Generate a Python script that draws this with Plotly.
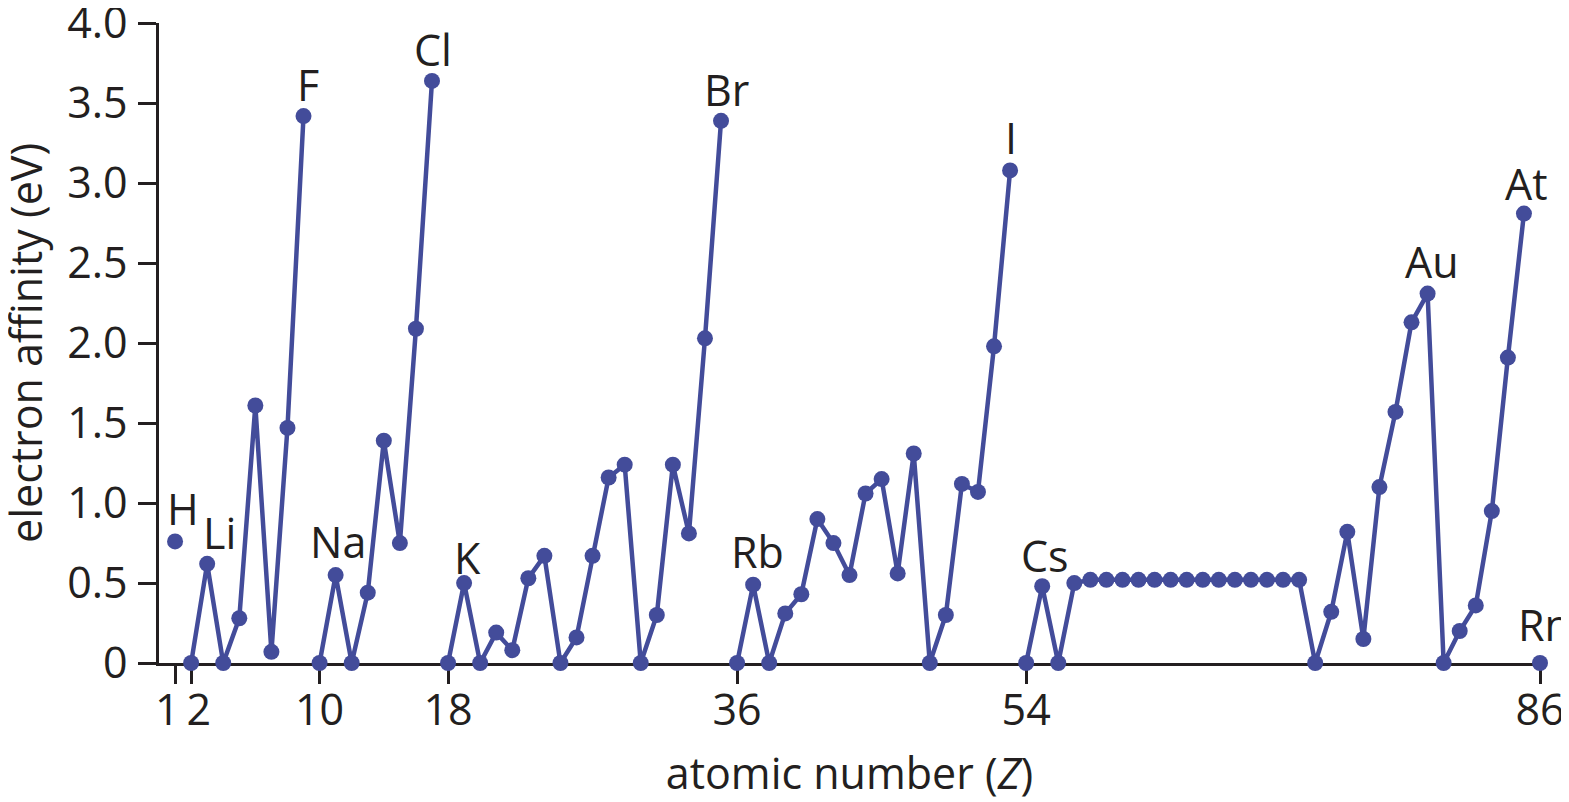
import plotly.graph_objects as go

# ---- data ----
Z = list(range(1, 87))
EA = [
    0.76, 0.00, 0.62, 0.00, 0.28, 1.61, 0.07, 1.47, 3.42, 0.00,   # 1-10
    0.55, 0.00, 0.44, 1.39, 0.75, 2.09, 3.64, 0.00, 0.50, 0.00,   # 11-20
    0.19, 0.08, 0.53, 0.67, 0.00, 0.16, 0.67, 1.16, 1.24, 0.00,   # 21-30
    0.30, 1.24, 0.81, 2.03, 3.39, 0.00, 0.49, 0.00, 0.31, 0.43,   # 31-40
    0.90, 0.75, 0.55, 1.06, 1.15, 0.56, 1.31, 0.00, 0.30, 1.12,   # 41-50
    1.07, 1.98, 3.08, 0.00, 0.48, 0.00, 0.50, 0.52, 0.52, 0.52,   # 51-60
    0.52, 0.52, 0.52, 0.52, 0.52, 0.52, 0.52, 0.52, 0.52, 0.52,   # 61-70
    0.52, 0.00, 0.32, 0.82, 0.15, 1.10, 1.57, 2.13, 2.31, 0.00,   # 71-80
    0.20, 0.36, 0.95, 1.91, 2.81, 0.00,                           # 81-86
]
# a new line segment starts at each of these atomic numbers
segment_starts = [1, 2, 10, 18, 36, 54, 86]

label_Z = [1, 3, 9, 11, 17, 19, 35, 37, 53, 55, 79, 85, 86]
label_text = ["H", "Li", "F", "Na", "Cl", "K", "Br", "Rb", "I", "Cs", "Au", "At", "Rn"]

x_tickvals = [1, 2, 10, 18, 36, 54, 86]
x_ticktext = ["1", "2", "10", "18", "36", "54", "86"]
y_tickvals = [0, 0.5, 1.0, 1.5, 2.0, 2.5, 3.0, 3.5, 4.0]
y_ticktext = ["0", "0.5", "1.0", "1.5", "2.0", "2.5", "3.0", "3.5", "4.0"]

x_title = "atomic number (<i>Z</i>)"
y_title = "electron affinity (eV)"

# ---- styling ----
COLOR = "#434C9A"
INK = "#231F20"
FONT = "Open Sans"
FS = 43
PAD = "\u00a0\u200a"

# the two crowded tick labels 1 and 2 are nudged apart with padding spaces
x_ticklabels = [PAD + t if t == "2" else (t + PAD if t == "1" else t) for t in x_ticktext]

# label offsets (px) relative to point: (xshift, yshift, xanchor)
label_style = {
    "H": (8, 1, "center"), "Li": (12, 0, "center"), "F": (4, 0, "center"),
    "Na": (2, 2, "center"), "Cl": (1, 0, "center"), "K": (3, -6, "center"),
    "Br": (5, 0, "center"), "Rb": (4, 2, "center"), "I": (1, 1, "center"),
    "Cs": (3, -1, "center"), "Au": (4, 1, "center"), "At": (3, -1, "center"),
    "Rn": (-24, 7, "left"),
}

# build line with breaks between segments
xs, ys = [], []
for z, v in zip(Z, EA):
    if z in segment_starts and xs:
        xs.append(None)
        ys.append(None)
    xs.append(z)
    ys.append(v)

fig = go.Figure()
fig.add_trace(go.Scatter(
    x=xs, y=ys, mode="lines+markers",
    line=dict(color=COLOR, width=4.5),
    marker=dict(color=COLOR, size=16),
    connectgaps=False, cliponaxis=False, showlegend=False,
    hoverinfo="x+y",
))

for z, t in zip(label_Z, label_text):
    dx, dy, xa = label_style[t]
    fig.add_annotation(
        x=z, y=EA[z - 1], text=t, showarrow=False,
        xanchor=xa, yanchor="bottom", xshift=dx, yshift=dy,
        font=dict(family=FONT, size=FS, color=INK),
    )

# y-axis title placed as a rotated annotation left of the tick labels
fig.add_annotation(
    xref="paper", yref="paper", x=0, y=0.5, text=y_title, textangle=-90,
    showarrow=False, xanchor="center", yanchor="middle", xshift=-134,
    font=dict(family=FONT, size=FS, color=INK),
)

axis_common = dict(
    showline=True, linecolor=INK, linewidth=2.5,
    ticks="outside", ticklen=18, tickwidth=2.5, tickcolor=INK,
    showgrid=False, zeroline=False, automargin=False,
    tickfont=dict(family=FONT, size=FS, color=INK),
    ticklabeloverflow="allow",
    layer="below traces",
)

# the page body adds an 8 px offset; the figure is sized to fill the window
fig.update_layout(
    width=1561, height=794,
    margin=dict(l=151, r=29, t=15, b=139, autoexpand=False),
    paper_bgcolor="white", plot_bgcolor="white",
    font=dict(family=FONT, size=FS, color=INK),
    xaxis=dict(
        range=[0, 86], tickvals=x_tickvals, ticktext=x_ticklabels, tickangle=0,
        ticklabelstandoff=-10,
        title=dict(text=x_title, font=dict(family=FONT, size=FS, color=INK), standoff=33),
        **axis_common,
    ),
    yaxis=dict(
        range=[0, 4.002], tickvals=y_tickvals, ticktext=y_ticktext,
        ticklabelstandoff=2,
        **axis_common,
    ),
)

fig.write_html("out.html")
